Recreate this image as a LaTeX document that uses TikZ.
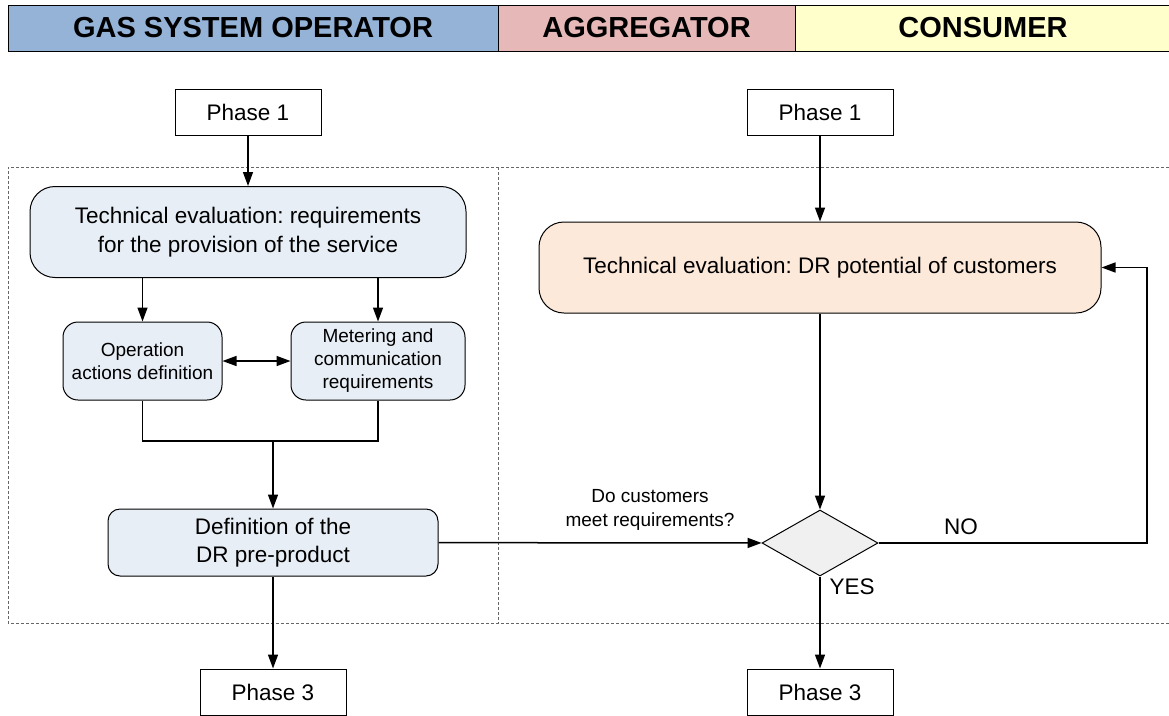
\documentclass[tikz,border=0pt]{standalone}
\usepackage{fontspec}
\setmainfont{Liberation Sans}
\usetikzlibrary{arrows.meta,shapes.geometric,positioning}
\definecolor{gsoband}{HTML}{95B3D7}
\definecolor{aggband}{HTML}{E6B9B8}
\definecolor{conband}{HTML}{FFFFCC}
\definecolor{gsofill}{HTML}{E8EEF6}
\definecolor{aggfill}{HTML}{FDE9DA}
\definecolor{decfill}{HTML}{F0F0F0}
\tikzset{
  band/.style={draw,line width=1pt,minimum height=46pt,inner sep=0pt,
    font=\fontsize{29}{32}\selectfont\bfseries},
  phasebox/.style={draw,line width=1pt,minimum width=146pt,minimum height=46pt,
    font=\fontsize{22.5}{26}\selectfont},
  process/.style={draw,line width=1pt,fill=gsofill,align=center},
  decision/.style={draw,line width=1pt,fill=decfill,diamond,aspect=1.75,
    minimum width=116pt,minimum height=66pt,inner sep=0pt},
  flow/.style={line width=1.5pt,-{Triangle[length=14pt,width=10pt]}},
  frame/.style={densely dashed,line width=0.8pt,gray!80!black}
}
\frenchspacing
\begin{document}
\begin{tikzpicture}[x=1pt,y=-1pt]
  \useasboundingbox (0,0) rectangle (1169,715);
  % role bands
  \node[band,fill=gsoband,minimum width=490pt] (gso) at (253,28) {GAS SYSTEM OPERATOR};
  \node[band,fill=aggband,minimum width=297pt] (agg) at (646.5,28) {AGGREGATOR};
  \node[band,fill=conband,minimum width=376pt] (con) at (983,28) {CONSUMER};
  % phase frame
  \draw[frame] (1169,167) -- (8,167) -- (8,623) -- (1169,623);
  \draw[frame] (498,167) -- (498,623);

  \node[phasebox] (ph1a) at (248,112) {Phase 1};
  \node[phasebox] (ph1b) at (820,112) {Phase 1};
  \node[process,rounded corners=25pt,minimum width=436pt,minimum height=91pt,
    font=\fontsize{22.5}{29}\selectfont] (evalgso) at (248,232)
    {Technical evaluation: requirements\\for the provision of the service};
  \node[process,rounded corners=15pt,minimum width=159pt,minimum height=78pt,
    font=\fontsize{19}{23}\selectfont] (oper) at (142.5,361)
    {Operation\\actions definition};
  \node[process,rounded corners=15pt,minimum width=174pt,minimum height=78pt,
    font=\fontsize{19}{23}\selectfont] (meter) at (378,361)
    {Metering and\\communication\\requirements};
  \node[process,rounded corners=12pt,minimum width=330pt,minimum height=67pt,
    font=\fontsize{22.5}{28}\selectfont] (prod) at (273,542.5)
    {Definition of the\\DR pre-product};
  \node[phasebox] (ph3a) at (273,692) {Phase 3};
  \node[phasebox] (ph3b) at (820,692) {Phase 3};
  \node[process,fill=aggfill,rounded corners=25pt,minimum width=562pt,minimum height=91pt,
    font=\fontsize{22.5}{26}\selectfont] (evalagg) at (820,267.5)
    {Technical evaluation: DR potential of customers};
  \node[decision] (check) at (820,543) {};
  \coordinate (merge) at (273,441);
  \coordinate (loop) at (1147,543);

  % connectors
  \draw[flow] (ph1a) -- (evalgso);
  \draw[flow] (evalgso.south -| oper) -- (oper);
  \draw[flow] (evalgso.south -| meter) -- (meter);
  \draw[line width=1.5pt,{Triangle[length=14pt,width=10pt]}-{Triangle[length=14pt,width=10pt]}] (oper) -- (meter);
  \draw[line width=1.5pt] (oper) |- (merge) -| (meter);
  \draw[flow] (merge) -- (prod);
  \draw[flow] (prod) -- (ph3a);
  \draw[flow] (ph1b) -- (evalagg);
  \draw[flow] (evalagg) -- (check);
  \draw[flow] (prod) -- node[above=8pt,xshift=50pt,align=center,
    font=\fontsize{19}{24}\selectfont] (ask) {Do customers\\meet requirements?} (check);
  \draw[flow] (check.east) -- (loop) |- (evalagg.east);
  \node[font=\fontsize{22.5}{26}\selectfont] (no) at (961,527) {NO};
  \draw[flow] (check) -- (ph3b);
  \node[font=\fontsize{22.5}{26}\selectfont] (yes) at (852,587) {YES};
\end{tikzpicture}
\end{document}
